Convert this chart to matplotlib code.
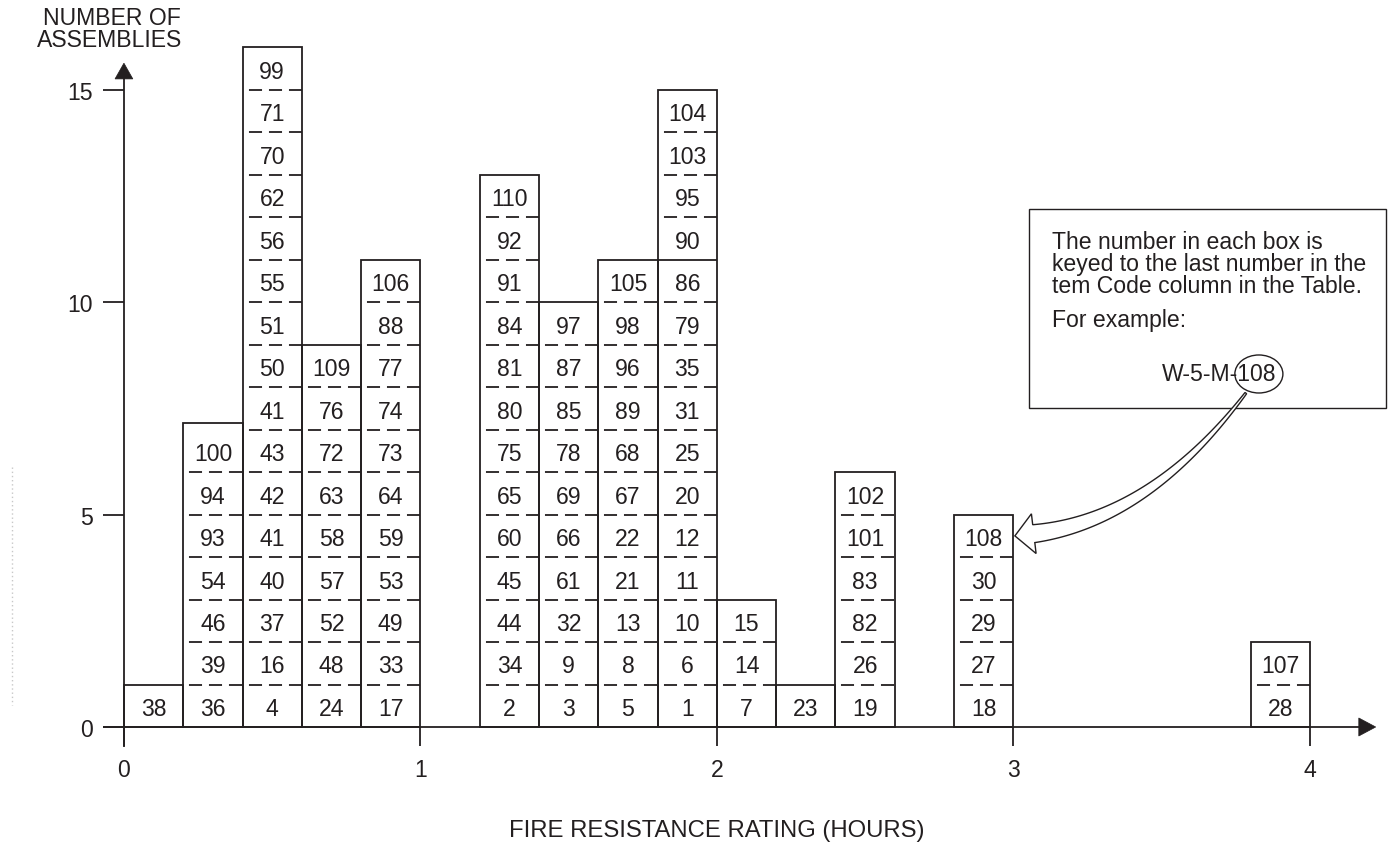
import matplotlib.pyplot as plt
import numpy as np
from matplotlib.patches import Rectangle, Ellipse, Polygon

plt.rcParams['font.family'] = ['Liberation Sans', 'DejaVu Sans']
plt.rcParams['lines.scale_dashes'] = False

# Data: left edge of each 0.2 h rating bin and the assembly keys stacked in it (bottom -> top)
bin_left_hours = [0.0, 0.2, 0.4, 0.6, 0.8, 1.2, 1.4, 1.6, 1.8, 2.0, 2.2, 2.4, 2.8, 3.8]
assembly_keys = [
    [38],
    [36, 39, 46, 54, 93, 94, 100],
    [4, 16, 37, 40, 41, 42, 43, 41, 50, 51, 55, 56, 62, 70, 71, 99],
    [24, 48, 52, 57, 58, 63, 72, 76, 109],
    [17, 33, 49, 53, 59, 64, 73, 74, 77, 88, 106],
    [2, 34, 44, 45, 60, 65, 75, 80, 81, 84, 91, 92, 110],
    [3, 9, 32, 61, 66, 69, 78, 85, 87, 97],
    [5, 8, 13, 21, 22, 67, 68, 89, 96, 98, 105],
    [1, 6, 10, 11, 12, 20, 25, 31, 35, 79, 86, 90, 95, 103, 104],
    [7, 14, 15],
    [23],
    [19, 26, 82, 83, 101, 102],
    [18, 27, 29, 30, 108],
    [28, 107],
]
x_ticks = [0, 1, 2, 3, 4]
y_ticks = [0, 5, 10, 15]
note_lines = ['The number in each box is',
              'keyed to the last number in the',
              'tem Code column in the Table.',
              'For example:']
example_code = 'W-5-M-108'
example_target = (3.0, 4.5)   # right edge of the "108" box

INK = '#231f20'
BIN_W = 0.2
LW = 1.3
FS = 16.6
DASH = (10.1, (9.4, 5.0))
top_extra = {0.2: 0.15}          # first drawing has the 0.2 h column a bit taller
solid_dividers = {(1.8, 11)}     # divider drawn solid in the original

fig = plt.figure(figsize=(13.92, 8.42), dpi=100)
ax = fig.add_axes([0, 0, 1, 1])
ax.set_xlim(-0.418, 4.277)
ax.set_ylim(-2.708, 17.118)
ax.axis('off')

# stacked boxes
for left, keys in zip(bin_left_hours, assembly_keys):
    left = round(left, 1)
    top = len(keys) + top_extra.get(left, 0)
    ax.add_patch(Rectangle((left, 0), BIN_W, top, fill=False, ec=INK, lw=LW, zorder=3))
    for k, key in enumerate(keys):
        ax.text(left + BIN_W / 2, k + 0.5 - 0.24, str(key), ha='center', va='baseline',
                fontsize=FS, color=INK, zorder=4)
        if k > 0:
            ls = '-' if (left, k) in solid_dividers else DASH
            ax.plot([left, left + BIN_W], [k, k], color=INK, lw=LW, linestyle=ls,
                    solid_capstyle='butt', zorder=3)

# axes with arrow heads
ax.plot([-0.071, 4.17], [0, 0], color=INK, lw=LW, solid_capstyle='butt', zorder=3)
ax.add_patch(Polygon([[4.165, 0.212], [4.222, 0], [4.165, -0.212]], closed=True,
                     fc=INK, ec=INK, lw=0.5, zorder=3))
ax.plot([0, 0], [-0.47, 15.3], color=INK, lw=LW, solid_capstyle='butt', zorder=3)
ax.add_patch(Polygon([[-0.030, 15.26], [0, 15.63], [0.030, 15.26]], closed=True,
                     fc=INK, ec=INK, lw=0.5, zorder=3))

for t in y_ticks:
    ax.plot([-0.07, 0], [t, t], color=INK, lw=LW, solid_capstyle='butt')
    ax.text(-0.105, t - 0.24, str(t), ha='right', va='baseline', fontsize=FS, color=INK)
for t in x_ticks:
    ax.plot([t, t], [0, -0.45], color=INK, lw=LW, solid_capstyle='butt')
    ax.text(t, -1.177, str(t), ha='center', va='baseline', fontsize=FS, color=INK)

ax.text(-0.042, 16.53, 'NUMBER OF', ha='center', va='baseline', fontsize=FS, color=INK)
ax.text(-0.047, 16.0, 'ASSEMBLIES', ha='center', va='baseline', fontsize=FS, color=INK)
ax.text(2.0, -2.59, 'FIRE RESISTANCE RATING (HOURS)', ha='center', va='baseline',
        fontsize=FS + 0.6, color=INK)

# note box
ax.add_patch(Rectangle((3.052, 7.511), 1.204, 4.686, fill=False, ec=INK, lw=1.0))
for y, line in zip([11.255, 10.737, 10.219, 9.418], note_lines):
    ax.text(3.130, y, line, ha='left', va='baseline', fontsize=FS, color=INK)
ax.text(3.501, 8.147, example_code, ha='left', va='baseline', fontsize=FS, color=INK)
ell_c = (3.828, 8.312)
ax.add_patch(Ellipse(ell_c, 0.162, 0.895, fill=False, ec=INK, lw=1.0, zorder=5))

# hollow curved arrow from the circled key to its box
to_px = ax.transData.transform
S = to_px((ell_c[0] - 0.044, ell_c[1] - 0.45))
P1 = to_px((3.46, 4.874))
T = to_px(example_target) + np.array([1.5, 0])
u = (T - P1) / np.linalg.norm(T - P1)
B = T - 19 * u
t = np.linspace(0, 1, 80)[:, None]
curve = (1 - t) ** 2 * S + 2 * (1 - t) * t * P1 + t ** 2 * B
deriv = 2 * (1 - t) * (P1 - S) + 2 * t * (B - P1)
deriv /= np.linalg.norm(deriv, axis=1, keepdims=True)
normal = np.column_stack([-deriv[:, 1], deriv[:, 0]])
w = 1.0 + 8.0 * t
side_a = curve + normal * w
side_b = curve - normal * w
nB = np.array([-u[1], u[0]])
pts = np.vstack([side_a, B + nB * 20, T, B - nB * 20, side_b[::-1]])
pts = ax.transData.inverted().transform(pts)
ax.add_patch(Polygon(pts, closed=True, fc='white', ec=INK, lw=1.0, zorder=6))

# faint scan speckle at the left margin
ax.plot([-0.378, -0.378], [6.12, 0.52], color='#c8c8c8', lw=1.0, linestyle=(0, (1, 2)))

fig.savefig('out.png', dpi=100)
